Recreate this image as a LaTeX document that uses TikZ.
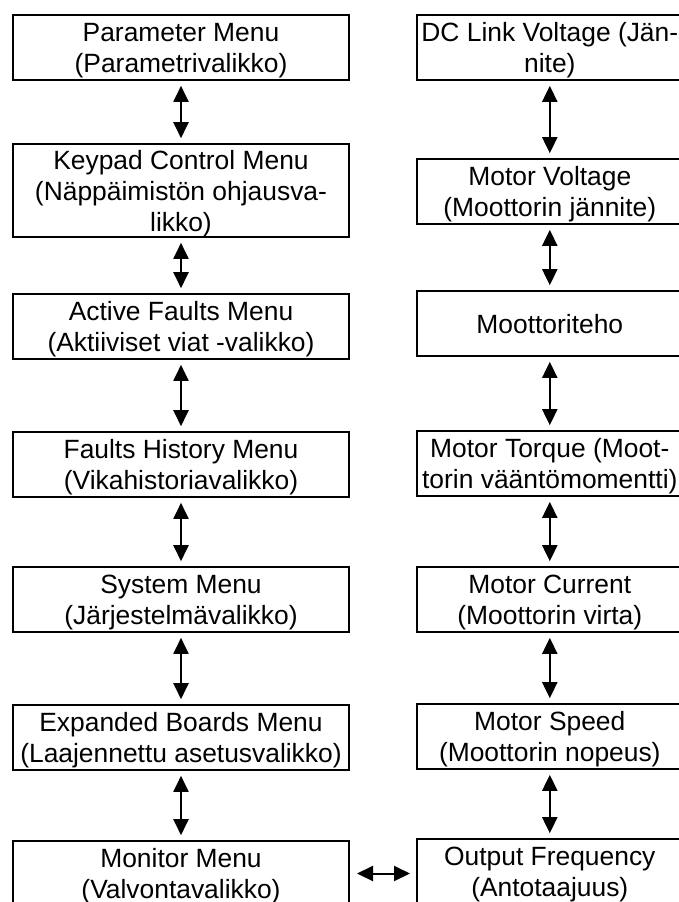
\documentclass[tikz,border=0pt]{standalone}
\usepackage{fontspec}
\setmainfont{Liberation Sans}
\usetikzlibrary{positioning,arrows.meta}
\begin{document}
\begin{tikzpicture}[>={Triangle[length=8pt,width=7.5pt]},
  b/.style={draw,line width=1.2pt,outer sep=0pt,align=center,font=\fontsize{13.2}{15.5}\selectfont,text depth=0pt,minimum width=167.8pt,minimum height=32.3pt,inner sep=1pt},
  bn/.style={b,minimum width=132.6pt},
  ar/.style={<->,line width=1pt,shorten <=3pt,shorten >=3pt}]
\useasboundingbox (0,0) rectangle (339.5pt,-451pt);
% menus
\node[b,anchor=north west] (pm) at (6.6pt,-7.6pt) {Parameter Menu\\(Parametrivalikko)};
\node[b,minimum height=46.3pt,below=32.2pt of pm] (kp) {Keypad Control Menu\\(Näppäimistön ohjausva-\\likko)};
\node[b,below=28.7pt of kp] (af) {Active Faults Menu\\(Aktiiviset viat -valikko)};
\node[b,below=36.7pt of af] (fh) {Faults History Menu\\(Vikahistoriavalikko)};
\node[b,below=35.2pt of fh] (sm) {System Menu\\(Järjestelmävalikko)};
\node[b,below=36.7pt of sm] (eb) {Expanded Boards Menu\\(Laajennettu asetusvalikko)};
\node[b,below=35.7pt of eb] (mm) {Monitor Menu\\(Valvontavalikko)};
% monitored values
\node[bn,right=34.2pt of pm.north east,anchor=north west] (dc) {DC Link Voltage (Jän-\\nite)};
\node[bn,below=39.7pt of dc] (mv) {Motor Voltage\\(Moottorin jännite)};
\node[bn,below=33.7pt of mv] (mp) {Moottoriteho};
\node[bn,below=37.7pt of mp] (mt) {Motor Torque (Moot-\\torin vääntömomentti)};
\node[bn,below=35.7pt of mt] (mc) {Motor Current\\(Moottorin virta)};
\node[bn,below=36.2pt of mc] (ms) {Motor Speed\\(Moottorin nopeus)};
\node[bn,below=35.2pt of ms] (of) {Output Frequency\\(Antotaajuus)};
\draw[ar] (pm)--(kp); \draw[ar] (kp)--(af); \draw[ar] (af)--(fh); \draw[ar] (fh)--(sm);
\draw[ar] (sm)--(eb); \draw[ar] (eb)--(mm);
\draw[ar] (dc)--(mv); \draw[ar] (mv)--(mp); \draw[ar] (mp)--(mt); \draw[ar] (mt)--(mc);
\draw[ar] (mc)--(ms); \draw[ar] (ms)--(of);
\draw[ar,shorten <=4.1pt,shorten >=3.6pt] (mm)--(mm -| of.west);
\end{tikzpicture}
\end{document}
